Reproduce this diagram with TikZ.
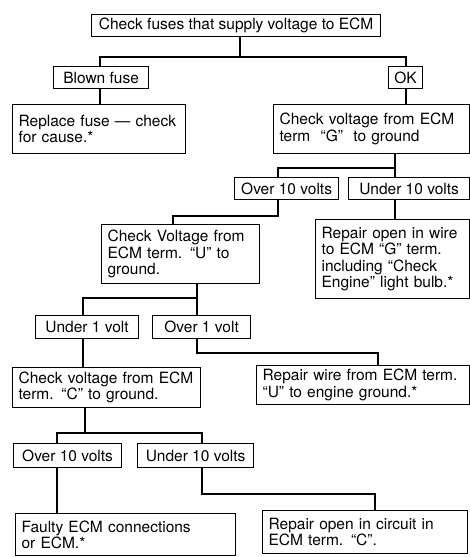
\documentclass[tikz,border=0pt]{standalone}
\usepackage{fontspec}
\setmainfont{TeX Gyre Heros}
\newcommand{\chartfont}{\fontsize{15.5}{16.5}\selectfont}
\begin{document}
\begin{tikzpicture}[x=1pt,y=-1pt,
  box/.style={draw, line width=1.2pt, anchor=north west, inner xsep=6pt, inner ysep=2pt, font=\chartfont},
  tag/.style={box, align=center},
  note/.style={box, align=left},
  wire/.style={line width=1.2pt}]
\fill[white] (0,0) rectangle (470,557);
\useasboundingbox (0,0) rectangle (470,557);

% boxes
\node[tag, minimum width=289pt, minimum height=22pt] (A) at (91,14) {Check fuses that supply voltage to ECM};
\node[tag, minimum width=95pt, minimum height=22pt] (B) at (53,66) {Blown fuse};
\node[tag, inner xsep=5pt, minimum width=34pt, minimum height=22pt] (C) at (388,66) {OK};
\node[note, text width=161pt, minimum height=49pt] (D) at (12,104) {Replace fuse --- check\\for cause.*};
\node[note, text width=184pt, minimum height=49pt] (E) at (273,104) {Check voltage from ECM\\term ~``G'' ~to ground};
\node[tag, minimum width=104pt, minimum height=22pt] (F) at (234,177) {Over 10 volts};
\node[tag, minimum width=121pt, minimum height=22pt] (G) at (348,177) {Under 10 volts};
\node[note, text width=146pt, minimum height=59pt] (H) at (101,224) {Check Voltage from\\ECM term. ``U'' to\\ground.};
\node[note, text width=142pt, minimum height=79pt] (I) at (315,219) {Repair open in wire\\to ECM ``G'' term.\\including ``Check\\Engine'' light bulb.*};
\node[tag, minimum width=103pt, minimum height=23pt] (J) at (35,315) {Under 1 volt};
\node[tag, minimum width=98pt, minimum height=23pt] (K) at (152,315) {Over 1 volt};
\node[note, text width=176pt, minimum height=40pt] (L) at (12,367) {Check voltage from ECM\\term. ``C'' to ground.};
\node[note, text width=201pt, minimum height=39pt] (M) at (256,365) {Repair wire from ECM term.\\``U'' to engine ground.*};
\node[tag, minimum width=108pt, minimum height=24pt] (N) at (13,443) {Over 10 volts};
\node[tag, minimum width=116pt, minimum height=24pt] (O) at (137,443) {Under 10 volts};
\node[note, text width=208pt, minimum height=42pt] (P) at (15,513) {Faulty ECM connections\\or ECM.*};
\node[note, text width=193pt, minimum height=43pt] (Q) at (262,510) {Repair open in circuit in\\ECM term. ``C''.};

% junction points of the connectors
\coordinate (j1) at (240,57);
\coordinate (jb) at (100,57);
\coordinate (jc) at (406,57);
\coordinate (k1) at (278,168);
\coordinate (k2) at (395,168);
\coordinate (k3) at (278,216);
\coordinate (k4) at (173,216);
\coordinate (k5) at (197,298);
\coordinate (k6) at (83,298);
\coordinate (k7) at (197,353);
\coordinate (k8) at (378,353);
\coordinate (k9) at (85,433);
\coordinate (k10) at (57,433);
\coordinate (k11) at (202,433);
\coordinate (k12) at (202,494);
\coordinate (k13) at (375,494);

% connectors
\draw[wire] (A.south -| j1) -- (j1);
\draw[wire] (B.north -| jb) -- (jb) -- (jc) -- (C.north -| jc);
\draw[wire] (B.south -| jb) -- (D.north -| jb);
\draw[wire] (C.south -| jc) -- (E.north -| jc);
\draw[wire] (E.south -| k2) -- (k2) -- (k1) -- (F.north -| k1);
\draw[wire] (k2) -- (G.north -| k2);
\draw[wire] (F.south -| k3) -- (k3) -- (k4) -- (H.north -| k4);
\draw[wire] (G.south -| k2) -- (I.north -| k2);
\draw[wire] (H.south -| k5) -- (k5) -- (k6) -- (J.north -| k6);
\draw[wire] (k5) -- (K.north -| k5);
\draw[wire] (J.south -| k6) -- (L.north -| k6);
\draw[wire] (K.south -| k7) -- (k7) -- (k8) -- (M.north -| k8);
\draw[wire] (L.south -| k9) -- (k9);
\draw[wire] (N.north -| k10) -- (k10) -- (k11) -- (O.north -| k11);
\draw[wire] (N.south -| k10) -- (P.north -| k10);
\draw[wire] (O.south -| k12) -- (k12) -- (k13) -- (Q.north -| k13);
\end{tikzpicture}
\end{document}
